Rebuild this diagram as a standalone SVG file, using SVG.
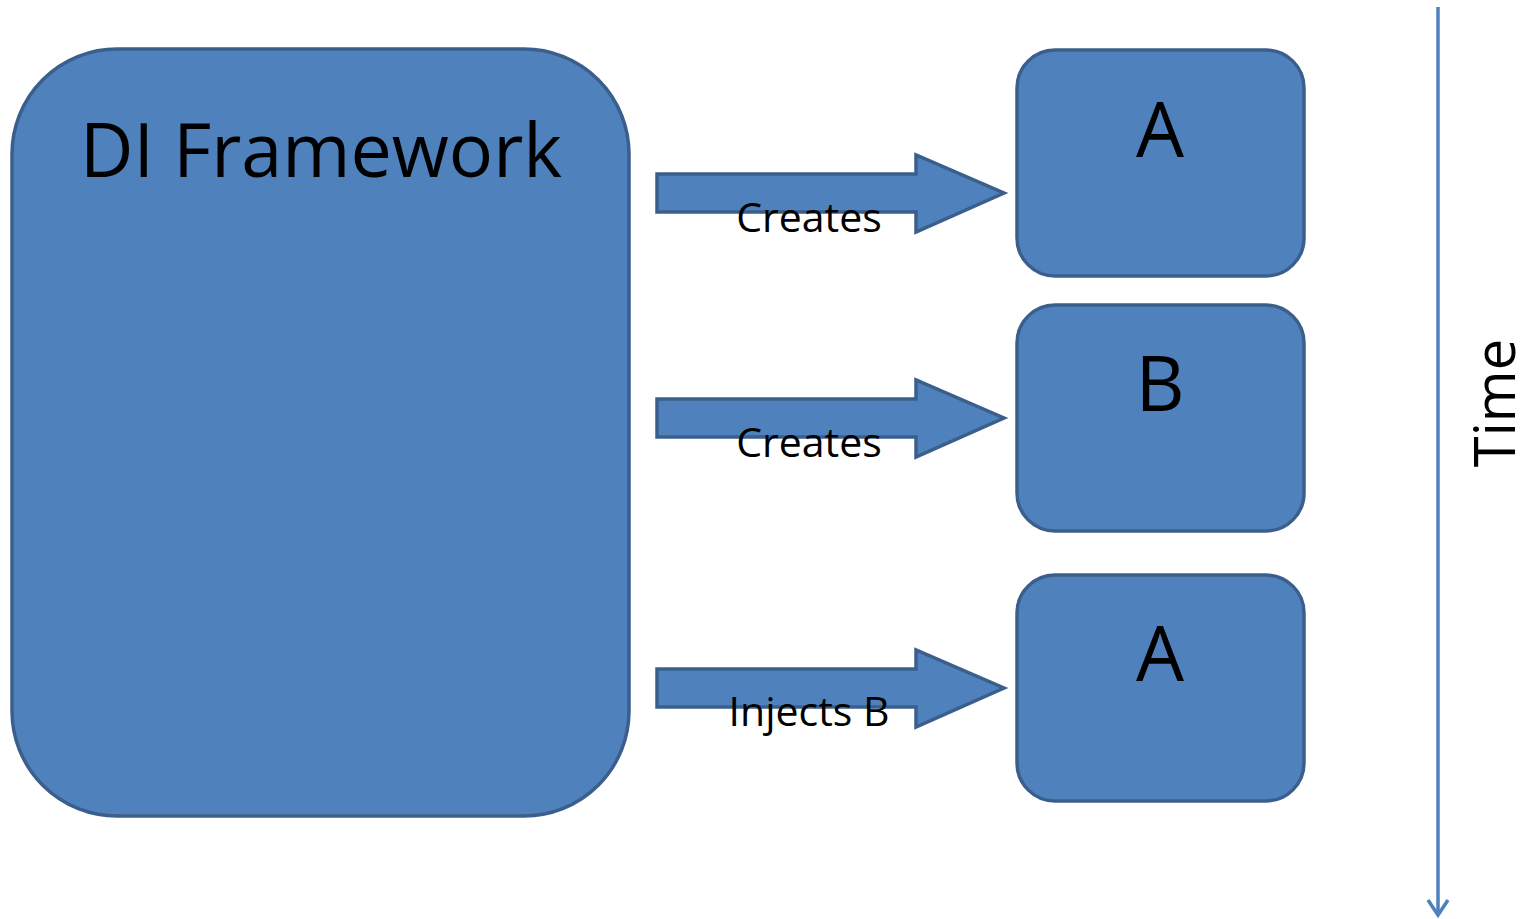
<svg xmlns="http://www.w3.org/2000/svg" width="1528" height="919" viewBox="0 0 1528 919">
<defs>
<style>
.box{fill:#4f81bd;stroke:#3b5f8c;stroke-width:3.5}
.arr{fill:#4f81bd;stroke:#3b5f8c;stroke-width:3.5;stroke-linejoin:miter}
text{font-family:"Open Sans","Noto Sans",sans-serif;fill:#000}
.lbl{font-size:41px;text-anchor:middle}
.big{font-size:76px;text-anchor:middle}
</style>
</defs>
<g id="di-framework">
<rect class="box" x="12" y="49" width="617" height="767" rx="105" ry="105"/>
<text x="321" y="177" style="font-size:75px;text-anchor:middle" textLength="482" lengthAdjust="spacingAndGlyphs">DI Framework</text>
</g>
<g id="node-a1">
<rect class="box" x="1017" y="50" width="287" height="226" rx="38" ry="38"/>
<text class="big" x="1160" y="157">A</text>
</g>
<g id="node-b">
<rect class="box" x="1017" y="305" width="287" height="226" rx="38" ry="38"/>
<text class="big" x="1160" y="411">B</text>
</g>
<g id="node-a2">
<rect class="box" x="1017" y="575" width="287" height="226" rx="38" ry="38"/>
<text class="big" x="1160" y="681">A</text>
</g>
<g id="connectors">
<g id="arrow-creates-a">
<path class="arr" d="M657,174 H916 V155 L1004,193 L916,232 V212 H657 Z"/>
<text class="lbl" x="809" y="232">Creates</text>
</g>
<g id="arrow-creates-b">
<path class="arr" d="M657,399 H916 V380 L1004,418 L916,457 V437 H657 Z"/>
<text class="lbl" x="809" y="457">Creates</text>
</g>
<g id="arrow-injects-b">
<path class="arr" d="M657,669 H916 V650 L1004,688 L916,727 V707 H657 Z"/>
<text class="lbl" x="809" y="726">Injects B</text>
</g>
<g id="time-axis">
<line x1="1438" y1="7" x2="1438" y2="915" stroke="#4f81bd" stroke-width="3.5"/>
<polyline points="1428,900 1438,915 1448,900" fill="none" stroke="#4f81bd" stroke-width="3.5"/>
</g>
</g>
<text transform="translate(1515,403) rotate(-90)" style="font-size:56px;text-anchor:middle">Time</text>
</svg>
